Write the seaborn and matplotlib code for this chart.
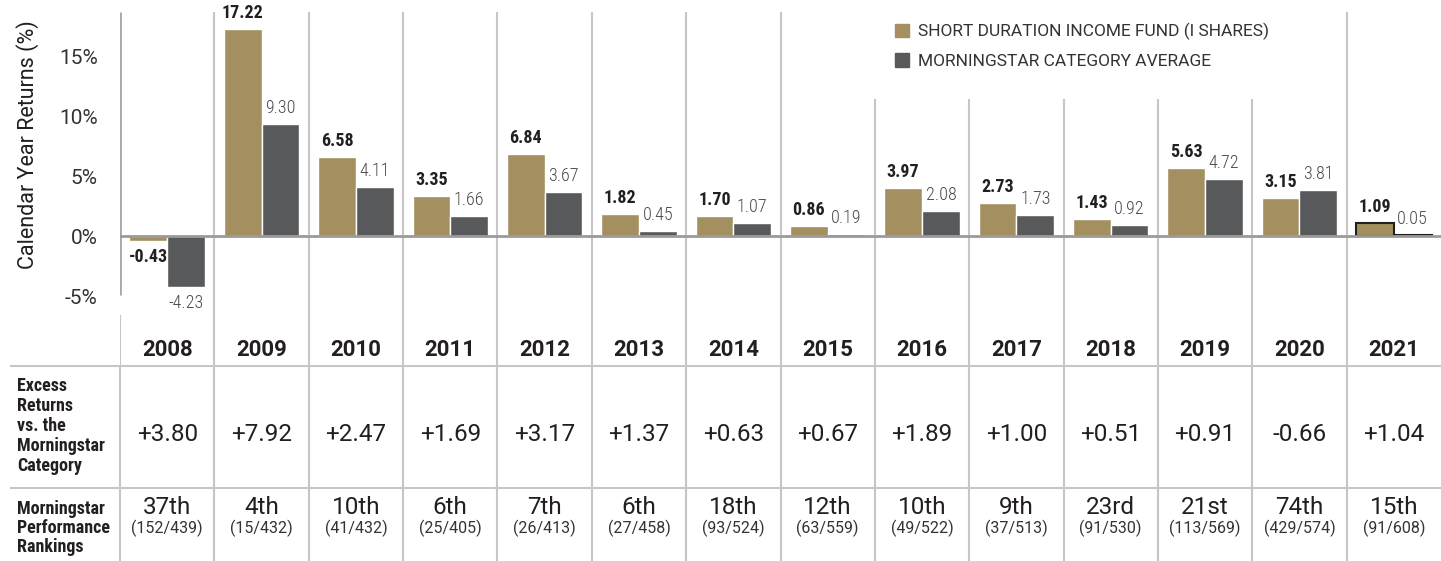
import matplotlib
matplotlib.use("Agg")
import matplotlib.pyplot as plt
from matplotlib import font_manager
from matplotlib.patches import Patch
import pandas as pd
import seaborn as sns

# -----------------------------
# DATA
# -----------------------------
years = ["2008", "2009", "2010", "2011", "2012", "2013", "2014",
         "2015", "2016", "2017", "2018", "2019", "2020", "2021"]
fund_returns = [-0.43, 17.22, 6.58, 3.35, 6.84, 1.82, 1.70,
                0.86, 3.97, 2.73, 1.43, 5.63, 3.15, 1.09]
category_returns = [-4.23, 9.30, 4.11, 1.66, 3.67, 0.45, 1.07,
                    0.19, 2.08, 1.73, 0.92, 4.72, 3.81, 0.05]
excess_returns = ["+3.80", "+7.92", "+2.47", "+1.69", "+3.17", "+1.37", "+0.63",
                  "+0.67", "+1.89", "+1.00", "+0.51", "+0.91", "-0.66", "+1.04"]
rank_percentile = ["37th", "4th", "10th", "6th", "7th", "6th", "18th",
                   "12th", "10th", "9th", "23rd", "21st", "74th", "15th"]
rank_counts = ["(152/439)", "(15/432)", "(41/432)", "(25/405)", "(26/413)",
               "(27/458)", "(93/524)", "(63/559)", "(49/522)", "(37/513)",
               "(91/530)", "(113/569)", "(429/574)", "(91/608)"]
y_ticks = [-5, 0, 5, 10, 15]

fund_name = "SHORT DURATION INCOME FUND (I SHARES)"
category_name = "MORNINGSTAR CATEGORY AVERAGE"

GOLD = "#A38F5F"
GRAY = "#58595B"
TEXT = "#231F20"
GRID = "#C6C6C6"

sns.set_style("white")
plt.rcParams["font.family"] = ["Roboto", "DejaVu Sans"]

# pick a narrow face for the small labels if one is installed
entries = font_manager.fontManager.ttflist
names = {f.name for f in entries}
if "Roboto Condensed" in names:
    NARROW = dict(family="Roboto Condensed", fontsize=13)
elif "Liberation Sans Narrow" in names:
    NARROW = dict(family="Liberation Sans Narrow", fontsize=13)
elif any(f.name == "DejaVu Sans" and "condensed" in str(f.stretch) for f in entries):
    NARROW = dict(family="DejaVu Sans", fontstretch="condensed", fontsize=11.5)
else:
    NARROW = dict(family="Roboto", fontsize=11.5)

df = pd.DataFrame({
    "Year": years * 2,
    "Return": fund_returns + category_returns,
    "Series": [fund_name] * len(years) + [category_name] * len(years),
})

W, H = 1441, 561
fig = plt.figure(figsize=(W / 100, H / 100), dpi=100)

# pixel layout helpers
left_px, top_px, split_px = 120, 12, 365
col_w = (W - left_px) / len(years)
zero_px, px_per_unit = 236, 12.0
y_top = (zero_px - top_px) / px_per_unit
y_bot = -(split_px - zero_px) / px_per_unit

ax = fig.add_axes([left_px / W, (H - split_px) / H, (W - left_px) / W, (split_px - top_px) / H])
sns.barplot(data=df, x="Year", y="Return", hue="Series", palette=[GOLD, GRAY],
            width=0.8, saturation=1, errorbar=None, legend=False, ax=ax)
ax.set_xlim(-0.5, len(years) - 0.5)
ax.set_ylim(y_bot, y_top)

for side in ["top", "right", "bottom", "left"]:
    ax.spines[side].set_visible(False)

# 2021 bars are outlined
for cont in ax.containers:
    cont.patches[-1].set_edgecolor("#231F20")
    cont.patches[-1].set_linewidth(1.5)

ax.bar_label(ax.containers[0], labels=[f"{v:.2f}" for v in fund_returns], padding=5,
             fontweight="bold", color=TEXT, **NARROW)
ax.bar_label(ax.containers[1], labels=[f"{v:.2f}" for v in category_returns], padding=5,
             fontweight="light", color="#4A4A4A", **NARROW)

ax.axhline(0, color="#9A9A9A", lw=2, zorder=3)

# column separators
legend_cols = [7.5, 8.5, 9.5, 10.5, 11.5]
for b in [k + 0.5 for k in range(len(years) - 1)]:
    top = (zero_px - 99) / px_per_unit if b in legend_cols else y_top
    ax.vlines(b, y_bot, top, color=GRID, lw=1.5, zorder=0)
ax.vlines(-0.5, -4.9, y_top, color="#A8A8A8", lw=2, zorder=0)
ax.vlines(-0.5, y_bot, -6.6, color=GRID, lw=1.5, zorder=0)

ax.set_yticks(y_ticks)
ax.set_yticklabels([f"{t}%" for t in y_ticks])
ax.tick_params(axis="y", length=0, pad=16, labelsize=15, labelcolor="#333333")
ax.set_xticks([])
ax.set_xlabel("")
ax.set_ylabel("Calendar Year Returns (%)", fontsize=15.5, color=TEXT)
ax.yaxis.set_label_coords(-0.061, 0.623)

for i, yr in enumerate(years):
    ax.text(i, (zero_px - 350) / px_per_unit, yr, ha="center", va="center",
            fontsize=16, fontweight="bold", color=TEXT)

ax.legend(handles=[Patch(color=GOLD, label=fund_name), Patch(color=GRAY, label=category_name)],
          loc="upper left", bbox_to_anchor=(895 / W, 1 - 23 / H), bbox_transform=fig.transFigure,
          frameon=False, fontsize=12.5, handlelength=0.8, handleheight=0.8,
          handletextpad=0.55, labelspacing=0.75, borderpad=0, borderaxespad=0,
          labelcolor="#333333")

# -----------------------------
# TABLE BELOW THE CHART
# -----------------------------
tax = fig.add_axes([0, 0, 1, (H - split_px) / H])
x0 = -0.5 - left_px / col_w
tax.set_xlim(x0, len(years) - 0.5)
tax.set_ylim(H, split_px)
tax.axis("off")


def px_x(px):
    return x0 + px / col_w


tax.hlines([split_px + 1, 488], px_x(10), len(years) - 0.5, color=GRID, lw=1.5)
tax.vlines([k - 0.5 for k in range(len(years))], split_px, H, color=GRID, lw=1.5)

tax.text(px_x(17), 426, "Excess\nReturns\nvs. the\nMorningstar\nCategory", ha="left", va="center",
         fontweight="bold", color=TEXT, linespacing=1.15, **NARROW)
tax.text(px_x(17), 528, "Morningstar\nPerformance\nRankings", ha="left", va="center",
         fontweight="bold", color=TEXT, linespacing=1.05, **NARROW)

for i in range(len(years)):
    tax.text(i, 435, excess_returns[i], ha="center", va="center", fontsize=17.5, color=TEXT)
    tax.text(i, 507, rank_percentile[i], ha="center", va="center", fontsize=17.5, color=TEXT)
    tax.text(i, 528, rank_counts[i], ha="center", va="center", fontsize=11.5, color="#333333")

fig.savefig("out.png", dpi=100)
